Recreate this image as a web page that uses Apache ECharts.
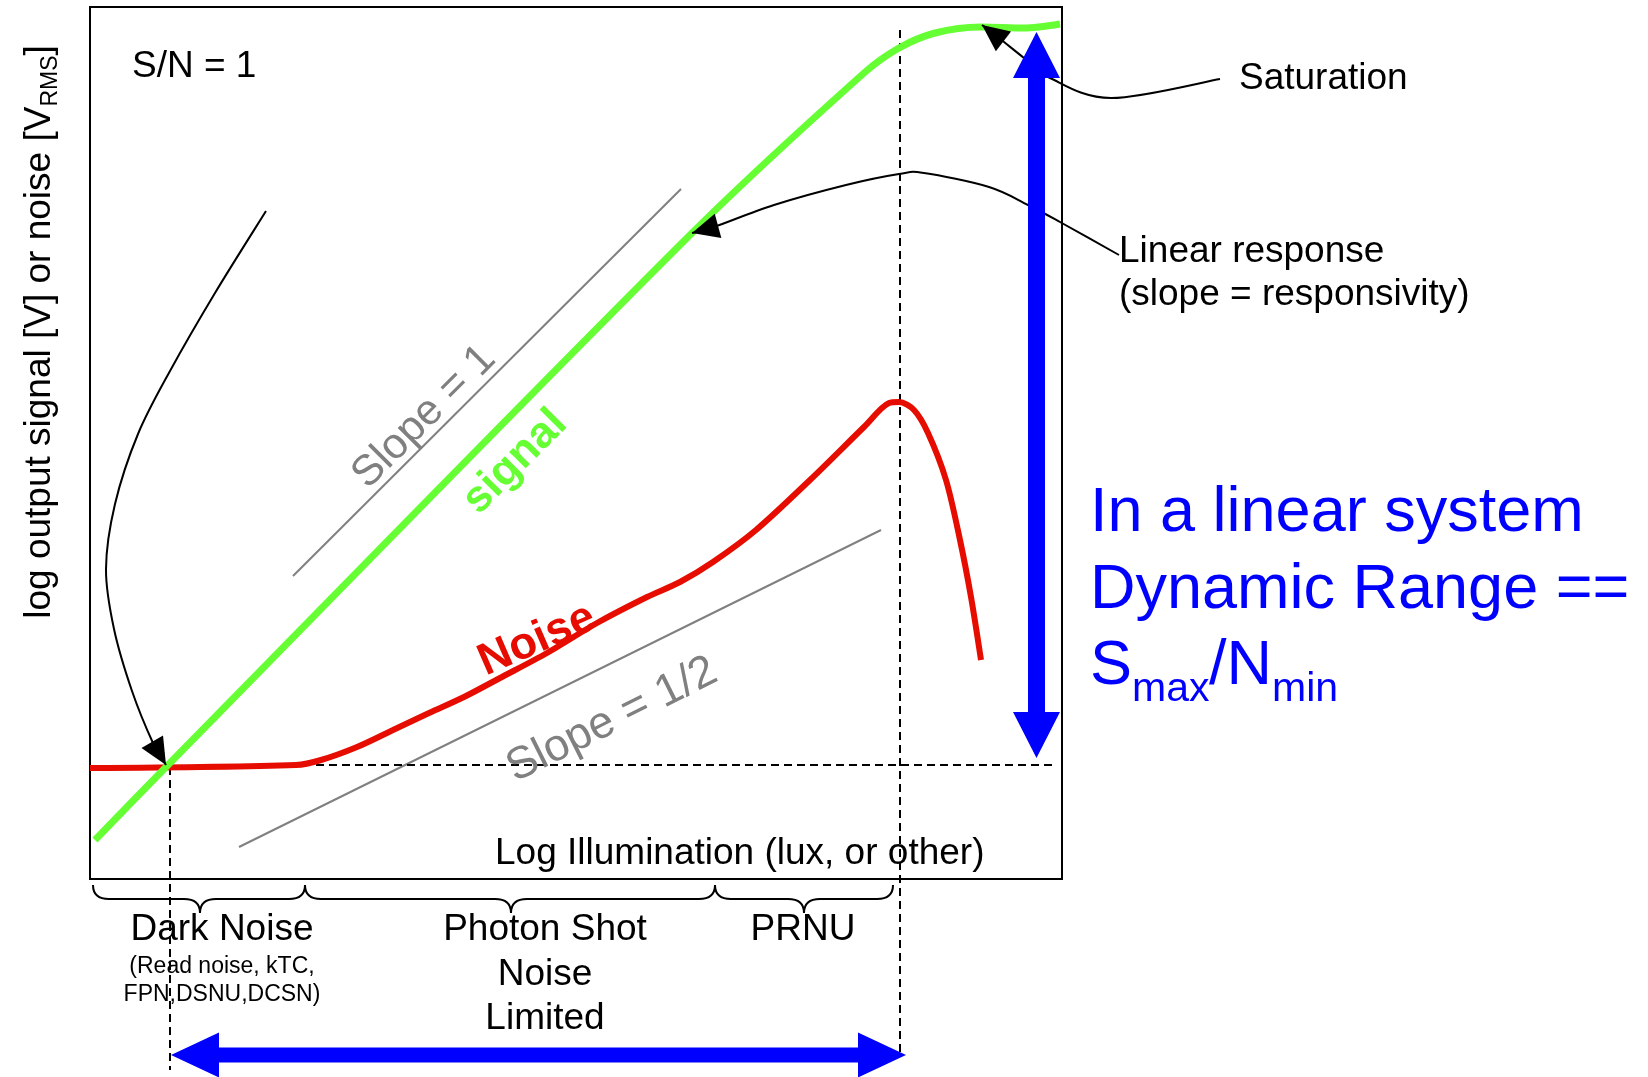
<!DOCTYPE html>
<html>
<head>
<meta charset="utf-8">
<script src="https://cdn.jsdelivr.net/npm/echarts@6/dist/echarts.min.js"></script>
<style>
  html, body { margin: 0; padding: 0; background: #fff; }
  #chart { width: 1648px; height: 1077px; }
</style>
</head>
<body>
<div id="chart"></div>
<script>
// Both axes are in arbitrary log units with the same scale, so a slope of 1
// on paper is a slope of 1 in the data.

// Output signal versus illumination: linear response, then saturation
const signalCurve = [
  [0.5, 3.9], [7.6, 11.2], [60.2, 64.6], [77.4, 80.6], [80.9, 83.1],
  [84.5, 84.6], [89.1, 85.2], [93.4, 85.1], [97.0, 85.5]
];

// Noise: dark-noise floor, shot-noise rise, PRNU rise, collapse at saturation
const noiseCurve = [
  [0, 11.1], [20.6, 11.4], [23.1, 11.9], [26.7, 13.2], [30.3, 14.9],
  [33.9, 16.6], [37.4, 18.2], [41.0, 20.1], [45.7, 22.6], [50.7, 25.6],
  [55.7, 28.2], [59.0, 29.7], [62.3, 31.7], [66.6, 34.9], [72.0, 39.9],
  [77.4, 45.2], [79.9, 47.6], [80.9, 47.7], [82.4, 46.9], [83.8, 44.6],
  [85.6, 39.9], [87.0, 33.9], [88.1, 28.2], [89.1, 21.9]
];

// Reference slopes
const slopeOneGuide = [[20.3, 30.3], [59.1, 69.0]];
const slopeHalfGuide = [[14.9, 3.2], [79.1, 34.9]];

// Reference levels (dashed)
const noiseFloorLine = [[22.6, 11.4], [96.6, 11.4]];
const crossoverLine = [[8.0, 11.2], [8.0, -19.1]];
const saturationOnsetLine = [[81.0, 84.9], [81.0, -17.4]];

// Leader arrows (from label toward the feature)
const snArrow = [[17.6, 66.8], [12.5, 58.6], [8.0, 50.8], [4.8, 44.5], [2.5, 37.5], [1.6, 31.0], [2.4, 25.0], [4.2, 18.8], [6.3, 13.6], [7.6, 11.4]];
const linearArrow = [[102.9, 62.4], [97.0, 65.7], [93.8, 67.4], [89.9, 69.2], [83.4, 70.6], [80.9, 70.5], [75.6, 69.4], [68.4, 67.4], [62.4, 65.2], [60.2, 64.6]];
const saturationArrow = [[113.0, 80.0], [102.1, 78.1], [96.0, 80.1], [93.4, 82.1], [90.9, 84.1], [89.2, 85.4]];

// Dynamic range arrows: N_min to S_max, and crossover to saturation onset
const rangeArrowVertical = [[94.65, 12.1], [94.65, 84.7]];
const rangeArrowHorizontal = [[8.1, -17.6], [81.6, -17.6]];

// Noise regimes along the illumination axis: [from, to, brace tip]
const regionNames = ['Dark Noise', 'Photon Shot Noise Limited', 'PRNU'];
const regionFrom = [0.3, 21.5, 62.5];
const regionTo = [21.5, 62.5, 80.3];
const regionTip = [11.0, 42.1, 71.4];
const braceLevels = [-0.6, -2.0, -3.4]; // top, shoulder, tip

const FONT = '"Liberation Sans", Arial, Helvetica, sans-serif';
const GREEN = '#66ff33';
const RED = '#e60d00';
const BLUE = '#0000ff';
const GRAY = '#808080';

const chart = echarts.init(document.getElementById('chart'), null, { renderer: 'canvas' });

function plainLine(name, data, color, width, extra) {
  return Object.assign({
    name: name, type: 'line', data: data, symbol: 'none', clip: false,
    silent: true, animation: false, lineStyle: { color: color, width: width }
  }, extra || {});
}

function dashed(name, data) {
  return plainLine(name, data, '#000', 2, { lineStyle: { color: '#000', width: 2, type: [8, 5] }, z: 3 });
}

// Catmull-Rom through pixel points, written as cubic Bezier path data
function smoothPathData(pts) {
  let d = 'M' + pts[0][0] + ' ' + pts[0][1];
  for (let i = 0; i < pts.length - 1; i++) {
    const p0 = pts[i - 1] || pts[i], p1 = pts[i], p2 = pts[i + 1], p3 = pts[i + 2] || pts[i + 1];
    const c1x = p1[0] + (p2[0] - p0[0]) / 6, c1y = p1[1] + (p2[1] - p0[1]) / 6;
    const c2x = p2[0] - (p3[0] - p1[0]) / 6, c2y = p2[1] - (p3[1] - p1[1]) / 6;
    d += ' C' + c1x + ' ' + c1y + ' ' + c2x + ' ' + c2y + ' ' + p2[0] + ' ' + p2[1];
  }
  return d;
}

const leaderArrows = [snArrow, linearArrow, saturationArrow];

function renderLeader(params, api) {
  const pts = leaderArrows[params.dataIndex].map(function (p) { return api.coord(p); });
  const n = pts.length;
  const tip = pts[n - 1], prev = pts[n - 2];
  let ux = tip[0] - prev[0], uy = tip[1] - prev[1];
  const len = Math.sqrt(ux * ux + uy * uy);
  ux /= len; uy /= len;
  const headLen = 27, headHalf = 12.5;
  const bx = tip[0] - ux * headLen, by = tip[1] - uy * headLen;
  const nx = -uy, ny = ux;
  return {
    type: 'group',
    children: [
      { type: 'path', shape: { pathData: smoothPathData(pts) },
        style: { stroke: '#000', lineWidth: 2, fill: 'none' } },
      { type: 'polygon',
        shape: { points: [tip, [bx + nx * headHalf, by + ny * headHalf], [bx - nx * headHalf, by - ny * headHalf]] },
        style: { fill: '#000' } }
    ]
  };
}

const rangeArrows = [
  { ends: rangeArrowVertical, shaftHalf: 8.5, headHalf: 23.5, headLen: 46 },
  { ends: rangeArrowHorizontal, shaftHalf: 7.5, headHalf: 22.5, headLen: 48 }
];

function renderRangeArrow(params, api) {
  const a = rangeArrows[params.dataIndex];
  const A = api.coord(a.ends[0]), B = api.coord(a.ends[1]);
  let ux = B[0] - A[0], uy = B[1] - A[1];
  const len = Math.sqrt(ux * ux + uy * uy);
  ux /= len; uy /= len;
  const nx = -uy, ny = ux;
  const h = a.headLen, w = a.headHalf, s = a.shaftHalf;
  const P = function (base, along, across) {
    return [base[0] + ux * along + nx * across, base[1] + uy * along + ny * across];
  };
  return {
    type: 'polygon',
    shape: { points: [
      A, P(A, h, w), P(A, h, s), P(B, -h, s), P(B, -h, w),
      B, P(B, -h, -w), P(B, -h, -s), P(A, h, -s), P(A, h, -w)
    ] },
    style: { fill: BLUE }
  };
}

function renderBrace(params, api) {
  const i = params.dataIndex;
  const L = api.coord([regionFrom[i], braceLevels[0]]);
  const R = api.coord([regionTo[i], braceLevels[0]]);
  const T = api.coord([regionTip[i], braceLevels[2]]);
  const y0 = L[1], y1 = api.coord([0, braceLevels[1]])[1], y2 = T[1];
  const r = 16;
  const xl = L[0], xr = R[0], xt = T[0];
  const d = 'M' + xl + ' ' + y0 +
    ' Q' + xl + ' ' + y1 + ' ' + (xl + r) + ' ' + y1 +
    ' L' + (xt - r) + ' ' + y1 +
    ' Q' + xt + ' ' + y1 + ' ' + xt + ' ' + y2 +
    ' Q' + xt + ' ' + y1 + ' ' + (xt + r) + ' ' + y1 +
    ' L' + (xr - r) + ' ' + y1 +
    ' Q' + xr + ' ' + y1 + ' ' + xr + ' ' + y0;
  return { type: 'path', shape: { pathData: d }, style: { stroke: '#000', lineWidth: 2, fill: 'none' } };
}

function txt(text, x, y, size, opts) {
  opts = opts || {};
  return {
    type: 'text', x: x, y: y, rotation: opts.rotation || 0, z: 50, silent: true,
    style: {
      text: text,
      font: (opts.weight || 'normal') + ' ' + size + 'px ' + FONT,
      fill: opts.color || '#000',
      align: opts.align || 'left', textAlign: opts.align || 'left',
      verticalAlign: 'middle', textVerticalAlign: 'middle',
      rich: opts.rich
    }
  };
}

const option = {
  backgroundColor: '#fff',
  animation: false,
  grid: {
    left: 90, top: 7, width: 972, height: 872,
    show: true, borderColor: '#000', borderWidth: 2, backgroundColor: 'transparent'
  },
  xAxis: { type: 'value', min: 0, max: 97.2, show: false },
  yAxis: { type: 'value', min: 0, max: 87.2, show: false },
  series: [
    plainLine('slope1', slopeOneGuide, GRAY, 2),
    plainLine('slopeHalf', slopeHalfGuide, GRAY, 2),
    dashed('noiseFloor', noiseFloorLine),
    dashed('crossover', crossoverLine),
    dashed('saturationOnset', saturationOnsetLine),
    plainLine('Noise', noiseCurve, RED, 6, { smooth: 0.3, z: 4 }),
    plainLine('signal', signalCurve, GREEN, 7, { smooth: 0.3, z: 5 }),
    {
      type: 'custom', name: 'leaders', clip: false, silent: true, z: 6,
      data: leaderArrows.map(function (a, i) { return [i, 0]; }),
      renderItem: renderLeader
    },
    {
      type: 'custom', name: 'dynamicRange', clip: false, silent: true, z: 7,
      data: rangeArrows.map(function (a, i) { return [i, 0]; }),
      renderItem: renderRangeArrow
    },
    {
      type: 'custom', name: 'regimes', clip: false, silent: true, z: 6,
      data: regionNames.map(function (n, i) { return [i, 0]; }),
      renderItem: renderBrace
    }
  ],
  graphic: [
    txt('{a|log output signal [V] or noise [V}{s|RMS}{a|]}', 40, 332, 37, {
      rotation: Math.PI / 2, align: 'center',
      rich: {
        a: { fontSize: 37, fontFamily: FONT, fill: '#000', lineHeight: 44, verticalAlign: 'middle' },
        s: { fontSize: 23, fontFamily: FONT, fill: '#000', lineHeight: 23, verticalAlign: 'bottom' }
      }
    }),
    txt('S/N = 1', 132, 67, 37),
    txt('Saturation', 1239, 79, 37),
    txt('Linear response', 1119, 252, 37),
    txt('(slope = responsivity)', 1119, 295, 37),
    txt('Slope = 1', 424, 417, 43, { rotation: Math.PI / 4, align: 'center', color: GRAY }),
    txt('Slope = 1/2', 612, 720, 45, { rotation: Math.atan(0.5), align: 'center', color: GRAY }),
    txt('signal', 515, 462, 44, { rotation: Math.PI / 4, align: 'center', color: GREEN, weight: 'bold' }),
    txt('Noise', 537, 640, 45, { rotation: 0.41, align: 'center', color: RED, weight: 'bold' }),
    txt('Log Illumination (lux, or other)', 495, 854, 37),
    txt('Dark Noise', 222, 930, 37, { align: 'center' }),
    txt('(Read noise, kTC,', 222, 967, 23, { align: 'center' }),
    txt('FPN,DSNU,DCSN)', 222, 995, 23, { align: 'center' }),
    txt('Photon Shot', 545, 930, 37, { align: 'center' }),
    txt('Noise', 545, 975, 37, { align: 'center' }),
    txt('Limited', 545, 1019, 37, { align: 'center' }),
    txt('PRNU', 803, 930, 37, { align: 'center' }),
    txt('In a linear system', 1090, 514, 63, { color: BLUE }),
    txt('Dynamic Range ==', 1090, 591, 63, { color: BLUE }),
    txt('S', 1090, 667, 63, { color: BLUE }),
    txt('max', 1132, 690, 41, { color: BLUE }),
    txt('/N', 1209, 667, 63, { color: BLUE }),
    txt('min', 1272, 690, 41, { color: BLUE })
  ]
};

chart.setOption(option);
</script>
</body>
</html>
